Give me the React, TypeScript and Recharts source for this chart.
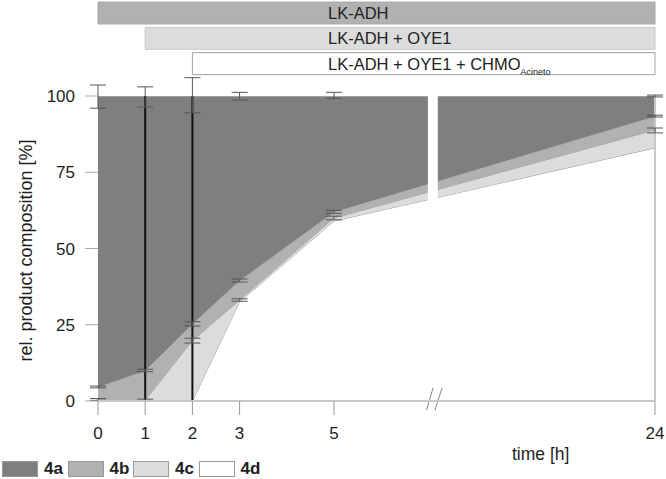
import { Area, ComposedChart, ErrorBar, Line, ReferenceArea, ReferenceLine, XAxis, YAxis } from 'recharts';

// sampling times [h] and the product shares [%] at each time, stacked bottom-up 4d, 4c, 4b, 4a
const times = [0, 1, 2, 3, 5, 24];
const share4d = [0, 0, 0, 32.5, 59, 83];
const share4c = [0.5, 0.3, 19.8, 0.6, 1, 5.9];
const share4b = [4.1, 9.7, 5.5, 6.4, 2, 4.5];
const share4a = [95.4, 90, 74.7, 60.5, 38, 6.6];

// error bars [down, up] on the stack boundaries
const errTop = [[4, 3.6], [3.6, 3], [5.5, 6], [1.3, 1.2], [0.8, 1.2], [0.3, 0.3]];
const err4b = [[0.3, 0.3], [0.4, 0.4], [0.7, 0.7], [0.5, 0.5], [0.5, 0.5], [0.3, 0.3]];
const err4c = [[0.3, 0.3], [0.3, 0.3], [0.8, 0.8], [0.4, 0.4], [0.6, 0.6], [1, 0.6]];
// the two very wide bars at 1 h and 2 h
const wideErr: (number[] | undefined)[] = [undefined, [50, 50], [50, 50], undefined, undefined, undefined];

const yTicks = [0, 25, 50, 75, 100];

const phases = [
  { label: 'LK-ADH', from: 0, fill: '#b1b1b1', stroke: '#a8a8a8' },
  { label: 'LK-ADH + OYE1', from: 1, fill: '#dcdcdc', stroke: '#c8c8c8' },
  { label: 'LK-ADH + OYE1 + CHMO', sub: 'Acineto', from: 2, fill: '#ffffff', stroke: '#a0a0a0' },
];

const series = [
  { key: 'd4a', name: '4a', fill: '#7f7f7f', stroke: '#c4c4c4' },
  { key: 'd4b', name: '4b', fill: '#b1b1b1', stroke: '#9c9c9c' },
  { key: 'd4c', name: '4c', fill: '#dcdcdc', stroke: '#9c9c9c' },
  { key: 'd4d', name: '4d', fill: '#ffffff', stroke: '#9c9c9c' },
];

// broken time axis: after 5 h the scale is squeezed
const BREAK_AT = 5;
const SQUEEZE = 0.358;
const axisPos = (t: number) => (t <= BREAK_AT ? t : BREAK_AT + (t - BREAK_AT) * SQUEEZE);
const xEnd = axisPos(24);
const gapFrom = 6.99;
const gapTo = 7.2;

const rows = times.map((t, i) => {
  const cLevel = share4d[i] + share4c[i];
  const bLevel = cLevel + share4b[i];
  return {
    x: axisPos(t),
    d4d: share4d[i],
    d4c: share4c[i],
    d4b: share4b[i],
    d4a: share4a[i],
    top: 100,
    topErr: errTop[i],
    bLevel,
    bErr: err4b[i],
    cLevel,
    cErr: err4c[i],
    wide: wideErr[i] ? 50 : undefined,
    wideErr: wideErr[i],
  };
});

const FONT = '"Liberation Sans", Arial, sans-serif';

function PhaseLabel({ viewBox, text, sub }: any) {
  if (!viewBox) return null;
  const x = viewBox.x + viewBox.width - 327;
  const y = viewBox.y + viewBox.height / 2 + 6;
  return (
    <text x={x} y={y} fontSize={16.5} fill="#222" fontFamily={FONT}>
      {text}
      {sub ? (
        <tspan fontSize={9} dy={5}>
          {sub}
        </tspan>
      ) : null}
    </text>
  );
}

export default function App() {
  const stackOrder = [...series].reverse();
  return (
    <div style={{ position: 'absolute', left: 0, top: 0, width: 666, height: 479, fontFamily: FONT, background: '#fff' }}>
      <ComposedChart width={666} height={479} data={rows} margin={{ top: 96, right: 11, left: 0, bottom: 0 }}>
        <XAxis
          type="number"
          dataKey="x"
          domain={[0, xEnd]}
          ticks={times.map(axisPos)}
          interval={0}
          allowDataOverflow
          tickFormatter={(v: number) => String(times.find((t) => Math.abs(axisPos(t) - v) < 1e-6) ?? '')}
          tickSize={14}
          tickMargin={12}
          height={78}
          axisLine={{ stroke: '#c8c8c8', strokeWidth: 2 }}
          tickLine={{ stroke: '#999' }}
          tick={{ fontSize: 17, fill: '#1e1e1e' }}
          label={{
            content: ({ viewBox }: any) => (
              <text x={viewBox.x + viewBox.width - 143} y={460} fontSize={17.5} fill="#1e1e1e" fontFamily={FONT}>
                time [h]
              </text>
            ),
          }}
        />
        <YAxis
          type="number"
          domain={[0, 100]}
          ticks={yTicks}
          allowDataOverflow
          width={98}
          axisLine={false}
          tickSize={13}
          tickMargin={10}
          tickLine={{ stroke: '#aaa' }}
          tick={{ fontSize: 17, fill: '#1e1e1e' }}
          label={{
            content: ({ viewBox }: any) => {
              const cy = viewBox.y + viewBox.height / 2 + 2;
              return (
                <text
                  x={26}
                  y={cy}
                  transform={`rotate(-90 26 ${cy})`}
                  textAnchor="middle"
                  dominantBaseline="central"
                  fontSize={18}
                  fill="#1e1e1e"
                  fontFamily={FONT}
                >
                  rel. product composition [%]
                </text>
              );
            },
          }}
        />

        {stackOrder.map((s) => (
          <Area
            key={s.key}
            type="linear"
            dataKey={s.key}
            stackId="p"
            fill={s.fill}
            fillOpacity={1}
            stroke={s.stroke}
            strokeWidth={1}
            isAnimationActive={false}
            dot={false}
            activeDot={false}
          />
        ))}

        <ReferenceArea x1={gapFrom} x2={gapTo} y1={2} y2={100.5} fill="#fff" fillOpacity={1} stroke="none" ifOverflow="visible" />
        <ReferenceLine x={xEnd} stroke="#c8c8c8" strokeWidth={2} />
        <ReferenceLine
          segment={[{ x: 6.96, y: -3 }, { x: 7.1, y: 4.3 }]}
          stroke="#888"
          ifOverflow="visible"
        />
        <ReferenceLine
          segment={[{ x: 7.14, y: -3 }, { x: 7.29, y: 4.3 }]}
          stroke="#888"
          ifOverflow="visible"
        />

        {phases.map((p, i) => (
          <ReferenceArea
            key={p.label}
            x1={axisPos(p.from)}
            x2={xEnd}
            y1={123.6 - i * 8.3}
            y2={130.8 - i * 8.3}
            fill={p.fill}
            fillOpacity={1}
            stroke={p.stroke}
            ifOverflow="visible"
            label={{ content: (props: any) => <PhaseLabel viewBox={props.viewBox} text={p.label} sub={p.sub} /> }}
          />
        ))}

        <Line dataKey="wide" stroke="none" dot={false} activeDot={false} legendType="none" isAnimationActive={false}>
          <ErrorBar dataKey="wideErr" width={0} stroke="#111" strokeWidth={2} direction="y" />
        </Line>
        <Line dataKey="top" stroke="none" dot={false} activeDot={false} legendType="none" isAnimationActive={false}>
          <ErrorBar dataKey="topErr" width={8} stroke="#555" strokeWidth={1} direction="y" />
        </Line>
        <Line dataKey="bLevel" stroke="none" dot={false} activeDot={false} legendType="none" isAnimationActive={false}>
          <ErrorBar dataKey="bErr" width={8} stroke="#555" strokeWidth={1} direction="y" />
        </Line>
        <Line dataKey="cLevel" stroke="none" dot={false} activeDot={false} legendType="none" isAnimationActive={false}>
          <ErrorBar dataKey="cErr" width={8} stroke="#555" strokeWidth={1} direction="y" />
        </Line>
      </ComposedChart>

      <div style={{ position: 'absolute', left: 2, top: 461, display: 'flex' }}>
        {series.map((s) => (
          <div key={s.key} style={{ width: 65.5, display: 'flex', alignItems: 'center' }}>
            <span
              style={{
                width: 34,
                height: 14,
                background: s.fill,
                border: '1px solid #999',
                display: 'inline-block',
              }}
            />
            <span style={{ marginLeft: 6, fontWeight: 'bold', fontSize: 17, color: '#1e1e1e', lineHeight: '16px' }}>{s.name}</span>
          </div>
        ))}
      </div>
    </div>
  );
}
